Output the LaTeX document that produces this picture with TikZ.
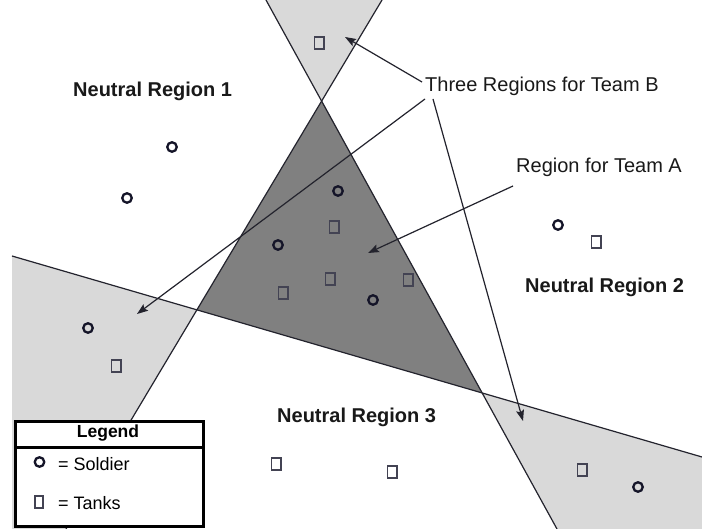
\documentclass[tikz,border=0pt]{standalone}
\usepackage{fontspec}
\setmainfont{Liberation Sans}
\usetikzlibrary{arrows.meta}
\definecolor{lightreg}{RGB}{217,217,217}
\definecolor{darkreg}{RGB}{128,128,128}
\definecolor{edgec}{RGB}{35,35,45}
\definecolor{markc}{RGB}{20,20,40}
\definecolor{txtc}{RGB}{25,25,25}
\begin{document}
\begin{tikzpicture}[x=1pt,y=-1pt,
  regline/.style={draw=edgec, line width=1.2},
  pointer/.style={draw=edgec, line width=1.2, -{Stealth[length=11,width=8,inset=2]}},
  soldier/.style={circle, draw=markc, line width=2.3, minimum size=9.5, inner sep=0pt},
  tank/.style={rectangle, draw=markc!80!white, line width=1.5, minimum width=9.5, minimum height=12, inner sep=0pt},
  boldlbl/.style={anchor=base west, inner sep=0pt, text=txtc, font=\fontsize{20}{24}\selectfont\bfseries},
  plainlbl/.style={anchor=base west, inner sep=0pt, text=txtc, font=\fontsize{20}{24}\selectfont},
  legtxt/.style={anchor=base west, inner sep=0pt, text=black, font=\fontsize{18}{22}\selectfont}]
\useasboundingbox (0,0) rectangle (702,529);
\fill[white] (0,0) rectangle (702,529);
% key points
\coordinate (L1top) at (382,0);
\coordinate (L1bot) at (66,529);
\coordinate (L2top) at (266,0);
\coordinate (L2bot) at (557,529);
\coordinate (L3left) at (12,256);
\coordinate (L3right) at (702,457);
\coordinate (apex) at (322,101);
\coordinate (pL) at (197,310);
\coordinate (pR) at (482,393);
% regions
\fill[lightreg] (L2top) -- (L1top) -- (apex) -- cycle;
\fill[darkreg] (apex) -- (pL) -- (pR) -- cycle;
\fill[lightreg] (L3left) -- (pL) -- (L1bot) -- (12,529) -- cycle;
\fill[lightreg] (pR) -- (L3right) -- (702,529) -- (L2bot) -- cycle;
% boundary lines
\draw[regline] (L1top) -- (L1bot);
\draw[regline] (L2top) -- (L2bot);
\draw[regline] (L3left) -- (L3right);
% soldiers
\node[soldier] (s1) at (172,147) {};
\node[soldier] (s2) at (127,198) {};
\node[soldier] (s3) at (338,191) {};
\node[soldier] (s4) at (278,245) {};
\node[soldier] (s5) at (373,300) {};
\node[soldier] (s6) at (558,225) {};
\node[soldier] (s7) at (88,328) {};
\node[soldier] (s8) at (638,487) {};
% tanks
\node[tank] (t1) at (319,43) {};
\node[tank] (t2) at (334,227) {};
\node[tank] (t3) at (330,279) {};
\node[tank] (t4) at (283,293) {};
\node[tank] (t5) at (408,280) {};
\node[tank] (t6) at (596,242) {};
\node[tank] (t7) at (116,366) {};
\node[tank] (t8) at (582,470) {};
\node[tank] (t9) at (276,464) {};
\node[tank] (t10) at (392,472) {};
% labels
\node[boldlbl] (nr1) at (73,97) {Neutral Region 1};
\node[boldlbl] (nr2) at (525,293) {Neutral Region 2};
\node[boldlbl] (nr3) at (277,423) {Neutral Region 3};
\node[plainlbl] (teamB) at (425,92) {Three Regions for Team B};
\node[plainlbl] (teamA) at (516,173) {Region for Team A};
% pointers
\coordinate (bs1) at (422,82);
\coordinate (bs2) at (425,99);
\coordinate (bs3) at (433,99);
\coordinate (bt1) at (345,37);
\coordinate (bt2) at (137,314);
\coordinate (bt3) at (523,421);
\coordinate (as) at (513,186);
\coordinate (at1) at (368,253);
\draw[pointer] (bs1) -- (bt1);
\draw[pointer] (bs2) -- (bt2);
\draw[pointer] (bs3) -- (bt3);
\draw[pointer] (as) -- (at1);
% legend
\draw[line width=3, fill=white] (15,421.5) rectangle (203,526.5);
\draw[line width=3] (15,447) -- (203,447);
\node[anchor=base, inner sep=0pt, font=\fontsize{17.5}{21}\selectfont\bfseries] (legtitle) at (108,438) {Legend};
\node[soldier] (ls) at (39.5,462) {};
\node[tank, minimum width=8, minimum height=12] (lt) at (39,502) {};
\node[legtxt] (lst) at (58,470) {= Soldier};
\node[legtxt] (ltt) at (58,509) {= Tanks};
\end{tikzpicture}
\end{document}
